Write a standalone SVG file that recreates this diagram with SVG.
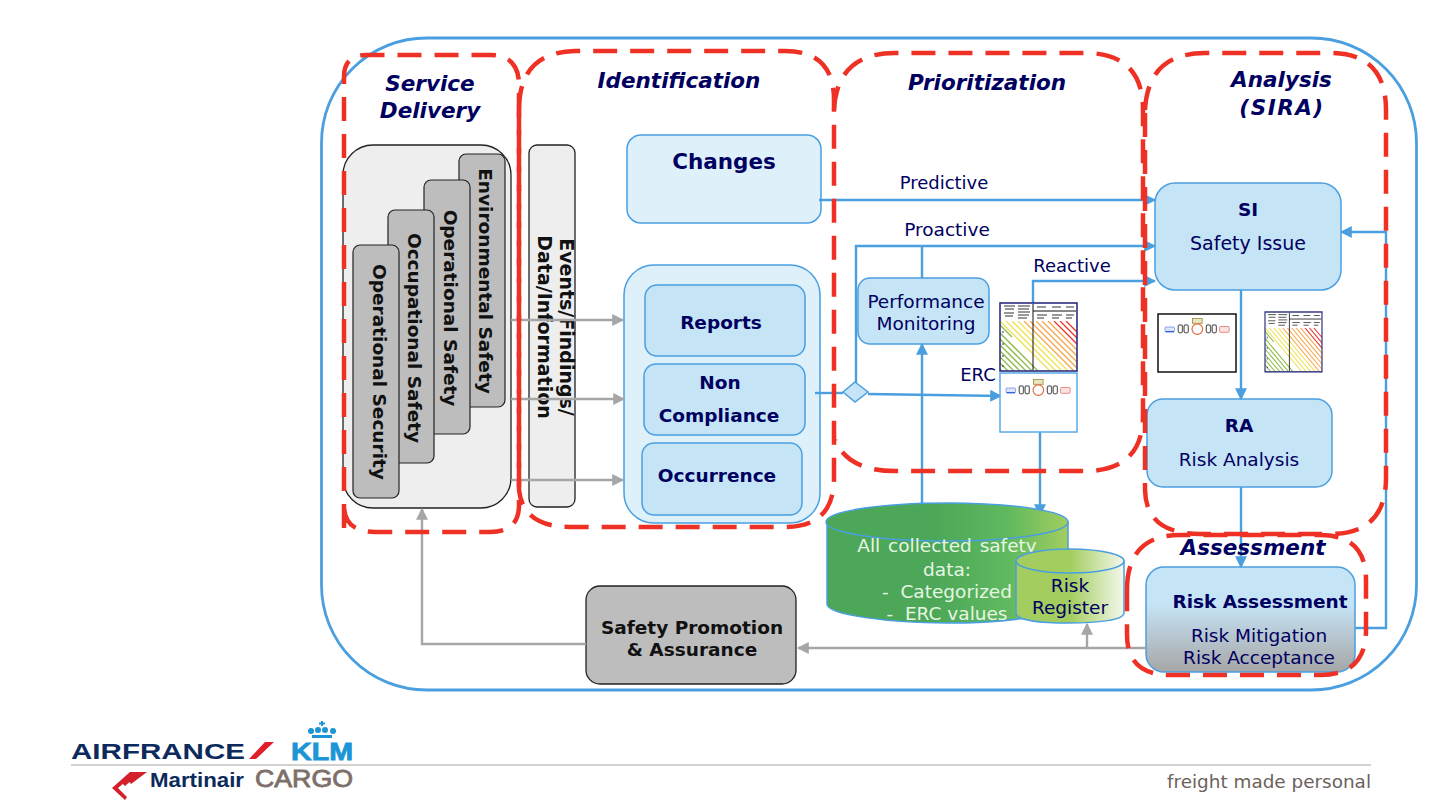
<svg xmlns="http://www.w3.org/2000/svg" width="1440" height="810" viewBox="0 0 1440 810">
<style>
text{font-family:"DejaVu Sans",Verdana,sans-serif;text-anchor:middle}
.title{font-size:21.5px;font-weight:bold;font-style:italic;fill:#000060}
.dash{fill:none;stroke:#ee3124;stroke-width:4.5;stroke-dasharray:24 13}
.blue{fill:#c5e4f6;stroke:#4a9fe0;stroke-width:1.5}
.navy{fill:#000060}
.b{font-weight:bold}
.l18{font-size:18.5px}
.grey{fill:#bdbdbd;stroke:#222;stroke-width:1.2}
.pane{fill:#eeeeee;stroke:#222;stroke-width:1.3}
.vt{font-size:18.5px;font-weight:bold;fill:#111}
.cb{fill:none;stroke:#4a9fe0;stroke-width:2.4}
.cg{fill:none;stroke:#a6a6a6;stroke-width:2.4}
.lg{font-family:"Liberation Sans",Arial,sans-serif}
</style>
<defs>
<marker id="ab" viewBox="0 0 10 10" refX="9" refY="5" markerWidth="5" markerHeight="5" orient="auto-start-reverse" markerUnits="strokeWidth"><path d="M0 0L10 5L0 10Z" fill="#4a9fe0"/></marker>
<marker id="ag" viewBox="0 0 10 10" refX="9" refY="5" markerWidth="5" markerHeight="5" orient="auto-start-reverse" markerUnits="strokeWidth"><path d="M0 0L10 5L0 10Z" fill="#a6a6a6"/></marker>
<linearGradient id="gg" x1="0" x2="1" y1="0" y2="0"><stop offset="0" stop-color="#4ca858"/><stop offset=".45" stop-color="#4ca858"/><stop offset=".75" stop-color="#5fb95f"/><stop offset="1" stop-color="#a3cd5f"/></linearGradient>
<linearGradient id="gr" x1="0" x2="1" y1="0" y2="0"><stop offset="0" stop-color="#a3cd5f"/><stop offset=".5" stop-color="#a3cd5f"/><stop offset="1" stop-color="#f4f8ec"/></linearGradient>
<linearGradient id="gs" x1="0" x2="0" y1="0" y2="1"><stop offset="0" stop-color="#c5e4f6"/><stop offset=".35" stop-color="#c5e4f6"/><stop offset="1" stop-color="#a6a6a6"/></linearGradient>
<g id="flow">
<rect x="0" y="0" width="18" height="9" rx="2" fill="#dde6fa" stroke="#5577dd" stroke-width="1.2"/>
<rect x="1" y="7.500" width="16" height="2.500" fill="#3366dd"/>
<rect x="25" y="-4" width="8" height="15" rx="3.500" fill="none" stroke="#666" stroke-width="2.400"/>
<rect x="36" y="-4" width="8" height="15" rx="3.500" fill="none" stroke="#666" stroke-width="2.400"/>
<rect x="52" y="-16" width="18" height="9" fill="#e9e6c0" stroke="#998833" stroke-width="1.500"/>
<circle cx="61" cy="4" r="10" fill="#fff" stroke="#e8683a" stroke-width="2.200"/>
<rect x="78" y="-4" width="8" height="15" rx="3.500" fill="none" stroke="#666" stroke-width="2.400"/>
<rect x="89" y="-4" width="8" height="15" rx="3.500" fill="none" stroke="#666" stroke-width="2.400"/>
<rect x="103" y="-1" width="18" height="11" rx="2" fill="#fbe3e0" stroke="#dd6666" stroke-width="1.400"/>
</g>
<clipPath id="mc"><rect x="0" y="18" width="77" height="50"/></clipPath>
<g id="matrix">
<rect width="77" height="68" fill="#fff"/>
<g clip-path="url(#mc)" fill="none" stroke-width="1.300">
<path stroke="#8dbb45" d="M-30 18L20 68M-24 18L26 68M-18 18L32 68M-12 18L38 68M-36 18L14 68M-42 18L8 68M-48 18L2 68M-6 30L32 68M-4 18L12 34"/>
<path stroke="#eee24e" d="M0 18L50 68M6 18L56 68M12 18L62 68M18 18L68 68"/>
<path stroke="#f5a64a" d="M24 18L74 68M30 18L80 68M36 18L78 60M42 18L80 56M48 18L80 50"/>
<path stroke="#e8382e" d="M54 18L80 44M60 18L80 38M66 18L80 32"/>
</g>
<path d="M33 1V67M33 8H76" stroke="#111" stroke-width="1" fill="none"/>
<path d="M4 3H15M5 6H14M4 10H14M5 13H13M18 3H30M18 6H29M18 9H30M18 12H29M18 15H27M37 4H46M52 4H61M66 4H74M37 12H47M52 12H62M66 12H74M37 15H44M52 15H59M66 15H72M3 28V30M3 40V42M3 52V54M3 62V64" stroke="#333" stroke-width="1"/>
<rect width="77" height="68" fill="none" stroke="#2d2f7f" stroke-width="1.600"/>
</g>
</defs>

<g id="outer-frame"><rect x="321.500" y="38" width="1095" height="652" rx="105" fill="#fff" stroke="#4a9fe0" stroke-width="2.800"/></g>

<g id="service-delivery-node">
<rect class="pane" x="343" y="145" width="168" height="363" rx="30"/>
<g><rect class="grey" x="459" y="154" width="46" height="253" rx="7"/><text class="vt" transform="translate(484 281) rotate(90)" dominant-baseline="middle">Environmental Safety</text></g>
<g><rect class="grey" x="424" y="180" width="46" height="254" rx="7"/><text class="vt" transform="translate(449 308) rotate(90)" dominant-baseline="middle">Operational Safety</text></g>
<g><rect class="grey" x="388" y="210" width="46" height="253" rx="7"/><text class="vt" transform="translate(413 338) rotate(90)" dominant-baseline="middle">Occupational Safety</text></g>
<g><rect class="grey" x="353" y="245" width="46" height="253" rx="7"/><text class="vt" transform="translate(378 372) rotate(90)" dominant-baseline="middle">Operational Security</text></g>
</g>

<g id="events-node">
<rect class="pane" x="529" y="145" width="46" height="362" rx="8"/>
<text class="vt" transform="translate(565 327) rotate(90)" dominant-baseline="middle" style="font-size:19px">Events/Findings/</text>
<text class="vt" transform="translate(543 327) rotate(90)" dominant-baseline="middle" style="font-size:19px">Data/Information</text>
</g>

<g id="changes-node"><rect x="627" y="135" width="194" height="88" rx="14" fill="#def0fa" stroke="#4a9fe0" stroke-width="1.500"/><text class="navy b" x="724" y="169" font-size="21.500">Changes</text></g>
<g id="identification-group"><rect x="624" y="265" width="196" height="258" rx="30" fill="#def0fa" stroke="#4a9fe0" stroke-width="1.500"/></g>
<g id="reports-node"><rect class="blue" x="645" y="285" width="160" height="71" rx="12"/><text class="navy b l18" x="721" y="329">Reports</text></g>
<g id="noncompliance-node"><rect class="blue" x="644" y="364" width="161" height="71" rx="12"/><text class="navy b l18" x="720" y="389">Non</text><text class="navy b l18" x="719" y="422">Compliance</text></g>
<g id="occurrence-node"><rect class="blue" x="642" y="443" width="160" height="72" rx="12"/><text class="navy b l18" x="717" y="482">Occurrence</text></g>

<g id="performance-node"><rect class="blue" x="858" y="278" width="131" height="66" rx="12"/><text class="navy l18" x="926" y="308">Performance</text><text class="navy l18" x="926" y="330">Monitoring</text></g>
<g id="si-node"><rect class="blue" x="1155" y="183" width="186" height="107" rx="20"/><text class="navy b l18" x="1248" y="216">SI</text><text class="navy" x="1248" y="250" font-size="19">Safety Issue</text></g>
<g id="ra-node"><rect class="blue" x="1147" y="399" width="185" height="88" rx="16"/><text class="navy b l18" x="1239" y="432">RA</text><text class="navy l18" x="1239" y="466">Risk Analysis</text></g>
<g id="assessment-node"><rect x="1146" y="567" width="209" height="105" rx="18" fill="url(#gs)" stroke="#4a9fe0" stroke-width="1.500"/><text class="navy b l18" x="1260" y="608">Risk Assessment</text><text class="navy l18" x="1259" y="642">Risk Mitigation</text><text class="navy l18" x="1259" y="664">Risk Acceptance</text></g>
<g id="promotion-node"><rect x="586" y="586" width="210" height="98" rx="14" fill="#bdbdbd" stroke="#222" stroke-width="1.300"/><text class="l18" x="692" y="634" font-weight="bold" fill="#111">Safety Promotion</text><text class="l18" x="692" y="656" font-weight="bold" fill="#111">&amp; Assurance</text></g>

<g id="connectors">
<path class="cg" d="M511 320H623" marker-end="url(#ag)"/>
<path class="cg" d="M511 399H624" marker-end="url(#ag)"/>
<path class="cg" d="M511 480H623" marker-end="url(#ag)"/>
<path class="cg" d="M586 644H422V509" marker-end="url(#ag)"/>
<path class="cg" d="M1146 648H798" marker-end="url(#ag)"/>
<path class="cg" d="M1087 647V624" marker-end="url(#ag)"/>
<path class="cb" d="M819 200H1155" marker-end="url(#ab)"/>
<path class="cb" d="M856 392V246H1155" marker-end="url(#ab)"/>
<path class="cb" d="M922 278V246"/>
<path class="cb" d="M922 504V344" marker-end="url(#ab)"/>
<path class="cb" d="M1033 303V281H1155" marker-end="url(#ab)"/>
<path class="cb" d="M815 393H843"/>
<path class="cb" d="M868 394L1001 396" marker-end="url(#ab)"/>
<path class="cb" d="M1040 432V515" marker-end="url(#ab)"/>
<path class="cb" d="M1241 290V399" marker-end="url(#ab)"/>
<path class="cb" d="M1241 487V567" marker-end="url(#ab)"/>
<path class="cb" d="M1355 628H1386V232H1341" marker-end="url(#ab)"/>
<path d="M855 382L868 392L855 402L843 392Z" fill="#c5e4f6" stroke="#4a9fe0" stroke-width="1.500"/>
</g>

<g id="erc-matrix-1"><use href="#matrix" x="1000" y="303"/></g>
<g id="erc-flow-1"><rect x="1000" y="373" width="77" height="59" fill="#fff" stroke="#5aa9e6" stroke-width="1.500"/><use href="#flow" transform="translate(1006 388) scale(.53)"/></g>
<g id="erc-flow-2"><rect x="1158" y="314" width="78" height="58" fill="#fff" stroke="#111" stroke-width="1.500"/><use href="#flow" transform="translate(1165 327) scale(.53)"/></g>
<g id="erc-matrix-2"><use href="#matrix" transform="translate(1265 312) scale(.74 .88)"/></g>

<g id="all-data-node">
<path d="M827 522V604C827 615 890 623 947 623C1005 623 1068 615 1068 604V522Z" fill="url(#gg)" stroke="#4a9fe0" stroke-width="1.500"/>
<ellipse cx="947" cy="522" rx="121" ry="19" fill="url(#gg)" stroke="#4a9fe0" stroke-width="1.500"/>
<g fill="#e8f5e2" font-size="18.500"><text x="947" y="552" word-spacing="2">All collected safety</text><text x="947" y="576">data:</text><text x="947" y="598">-&#160;&#160;Categorized</text><text x="947" y="620">-&#160;&#160;ERC values</text></g>
</g>
<g id="risk-register-node">
<path d="M1016 561V613C1016 620 1040 623 1069 623C1098 623 1124 620 1124 613V561Z" fill="url(#gr)" stroke="#4a9fe0" stroke-width="1.500"/>
<ellipse cx="1070" cy="561" rx="54" ry="12" fill="url(#gr)" stroke="#4a9fe0" stroke-width="1.500"/>
<text class="navy l18" x="1070" y="592">Risk</text><text class="navy l18" x="1070" y="614">Register</text>
</g>

<g id="zones">
<path class="dash" d="M344 528V77Q344 55 366 55H490Q519 55 519 85V505Q519 532 490 532H375Q344 532 344 505"/>
<path class="dash" d="M519 110Q519 52 575 51H785Q834 51 834 100V478Q834 527 785 527H570Q523 527 519 490V110"/>
<path class="dash" d="M834 110Q837 53 895 53H1085Q1143 53 1143 110V415Q1143 471 1085 471H895Q848 471 835 440"/>
<path class="dash" d="M1145 110Q1148 53 1205 53H1330Q1386 53 1386 110V478Q1386 534 1330 534H1200Q1146 534 1145 490V110"/>
<path class="dash" d="M1127 590Q1127 535 1180 535H1320Q1366 535 1366 580V630Q1366 675 1320 675H1170Q1127 675 1127 635V590"/>
</g>

<g id="titles">
<text class="title" x="430" y="91">Service</text><text class="title" x="430" y="118">Delivery</text>
<text class="title" x="679" y="88">Identification</text>
<text class="title" x="987" y="90">Prioritization</text>
<text class="title" x="1281.500" y="87">Analysis</text><text class="title" x="1282" y="115" letter-spacing="1.500">(SIRA)</text>
<text class="title" x="1253" y="555">Assessment</text>
</g>
<g id="edge-labels">
<text class="navy" x="944" y="189" font-size="18">Predictive</text>
<text class="navy" x="947" y="236" font-size="18.500">Proactive</text>
<text class="navy" x="1072" y="272" font-size="18">Reactive</text>
<text class="navy" x="978" y="381" font-size="18">ERC</text>
</g>

<g id="logos">
<path d="M71 765H1371" stroke="#aaa39d" stroke-width="1" fill="none"/>
<text class="lg" x="158" y="759" font-size="22" font-weight="bold" fill="#0c2a5c" textLength="174" lengthAdjust="spacingAndGlyphs">AIRFRANCE</text>
<path d="M249 759L265 742H274L256 759Z" fill="#e21e2b"/>
<text class="lg" x="322" y="760" font-size="24" font-weight="bold" fill="#1b95d6" stroke="#1b95d6" stroke-width=".8" textLength="62" lengthAdjust="spacingAndGlyphs">KLM</text>
<g fill="#1b95d6"><circle cx="311" cy="731" r="3"/><circle cx="318" cy="730" r="3"/><circle cx="325" cy="730" r="3"/><circle cx="333" cy="731" r="3"/><path d="M312 735H332V738H312ZM321 721H323V726H321ZM319 722.500H325V724.500H319Z"/></g>
<path d="M112 788L130 772H137L118 788L127 797L125 800ZM122 783L135 772H141L125 786ZM128 780L139 772H147L131 784Z" fill="#d3202a"/>
<text class="lg" x="197" y="787" font-size="21" font-weight="bold" fill="#0c2a5c" textLength="94" lengthAdjust="spacingAndGlyphs">Martinair</text>
<text class="lg" x="304" y="787" font-size="24" fill="#7d7068" stroke="#7d7068" stroke-width=".8" textLength="98" lengthAdjust="spacingAndGlyphs">CARGO</text>
<text x="1269" y="788" font-size="18" fill="#6b625c" textLength="204" lengthAdjust="spacingAndGlyphs">freight made personal</text>
</g>
</svg>
